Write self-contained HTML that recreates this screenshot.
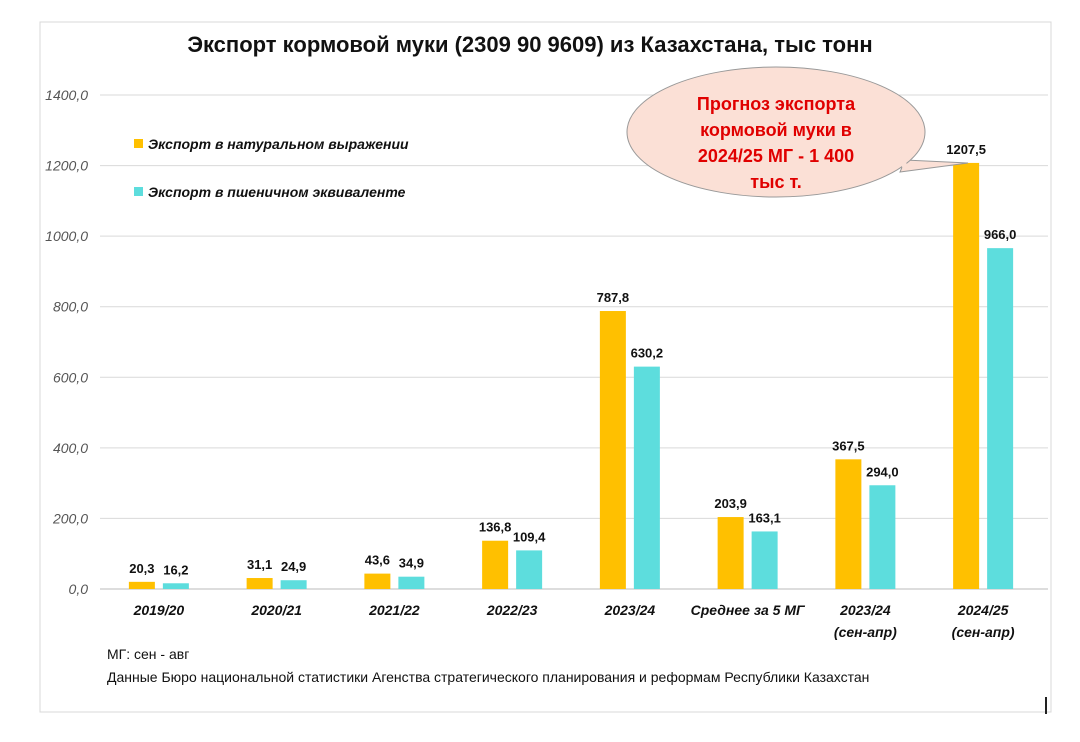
<!DOCTYPE html>
<html><head><meta charset="utf-8"><style>
body{margin:0;background:#fff;width:1080px;height:737px;overflow:hidden;font-family:"Liberation Sans",sans-serif}
</style></head><body>
<svg width="1080" height="737" xmlns="http://www.w3.org/2000/svg">
<rect x="40" y="22" width="1011" height="690" fill="#fff" stroke="#d8d8d8"/>
<line x1="1046" y1="697" x2="1046" y2="714" stroke="#222" stroke-width="2"/>
<text x="530" y="52" text-anchor="middle" font-size="22" font-weight="bold" fill="#111">Экспорт кормовой муки (2309 90 9609) из Казахстана, тыс тонн</text>
<g id="grid"></g><g id="bars"></g><g id="labels"></g>
<g>
<rect x="134" y="139" width="9" height="9" fill="#FFC000"/>
<text x="148" y="149" font-size="14" font-weight="bold" font-style="italic" fill="#111">Экспорт в натуральном выражении</text>
<rect x="134" y="187" width="9" height="9" fill="#5DDDDD"/>
<text x="148" y="197" font-size="14" font-weight="bold" font-style="italic" fill="#111">Экспорт в пшеничном эквиваленте</text>
</g>
<g>
<path d="M 905 160 L 968 163 L 900 172 Z" fill="#FBE0D6" stroke="#999"/>
<ellipse cx="776" cy="132" rx="149" ry="65" fill="#FBE0D6" stroke="#999"/>
<path d="M 903 160 L 905 168" stroke="#FBE0D6" stroke-width="5"/>
<g font-size="18" font-weight="bold" fill="#E00000" text-anchor="middle">
<text x="776" y="110">Прогноз экспорта</text>
<text x="776" y="136">кормовой муки в</text>
<text x="776" y="162">2024/25 МГ - 1 400</text>
<text x="776" y="188">тыс т.</text>
</g></g>
<text x="107" y="659" font-size="14" fill="#111">МГ: сен - авг</text>
<text x="107" y="682" font-size="14" fill="#111">Данные Бюро национальной статистики Агенства стратегического планирования и реформам Республики Казахстан</text>
</svg>
<script>
const categories=[["2019/20"],["2020/21"],["2021/22"],["2022/23"],["2023/24"],["Среднее за 5 МГ"],["2023/24","(сен-апр)"],["2024/25","(сен-апр)"]];
const naturalValues=[20.3,31.1,43.6,136.8,787.8,203.9,367.5,1207.5];
const wheatValues=[16.2,24.9,34.9,109.4,630.2,163.1,294.0,966.0];
const yTicks=[0,200,400,600,800,1000,1200,1400];
const NS="http://www.w3.org/2000/svg";
const x0=100,x1=1042,gridEnd=1048,yBase=589,yTop=95,yMax=1400;
const y=v=>yBase-(v/yMax)*(yBase-yTop);
const step=(x1-x0)/categories.length;
const cx=i=>x0+step*(i+0.5);
const fmt=v=>v.toFixed(1).replace('.',',');
function el(t,a,p){const e=document.createElementNS(NS,t);for(const k in a)e.setAttribute(k,a[k]);p.appendChild(e);return e;}
const grid=document.getElementById('grid'),bars=document.getElementById('bars'),labels=document.getElementById('labels');
yTicks.forEach(t=>{
 const l=el('line',{x1:x0,x2:gridEnd,y1:y(t),y2:y(t),stroke:t===0?'#bbb':'#d9d9d9'},grid);
 
 
 const tx=el('text',{x:88,y:y(t)+5,'text-anchor':'end','font-size':14,'font-style':'italic',fill:'#555'},grid);
 tx.textContent=fmt(t);
 
 
});
const bw=26,gap=8;
categories.forEach((c,i)=>{
 [[naturalValues[i],'#FFC000',-1],[wheatValues[i],'#5DDDDD',1]].forEach(([v,col,s])=>{
  const bx=s<0?cx(i)-gap/2-bw:cx(i)+gap/2;
  const r=el('rect',{x:bx,y:y(v),width:bw,height:yBase-y(v),fill:col},bars);
  
  
  const t=el('text',{x:bx+bw/2,y:y(v)-9,'text-anchor':'middle','font-size':13,'font-weight':'bold',fill:'#111'},labels);
  t.textContent=fmt(v);
  
  
 });
 c.forEach((line,j)=>{
  const t=el('text',{x:cx(i),y:615+j*22,'text-anchor':'middle','font-size':14,'font-weight':'bold','font-style':'italic',fill:'#111'},labels);
  t.textContent=line;
  
  
 });
});
</script>
</body></html>
